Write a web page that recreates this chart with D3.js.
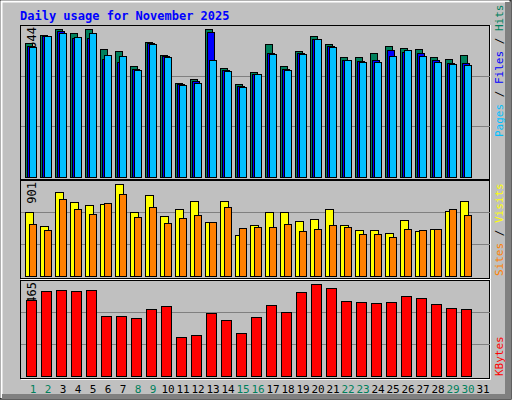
<!DOCTYPE html>
<html><head><meta charset="utf-8">
<script src="https://cdn.jsdelivr.net/npm/d3@7"></script>
<style>body{margin:0;background:#fff}svg{display:block}text{font-family:"DejaVu Sans Mono",monospace}</style>
</head><body><svg id="c" width="512" height="400"></svg>
<script>
const days = d3.range(1,32);
const weekend = [1,2,8,9,15,16,22,23,29,30];
const hits  = [22170,23550,24500,23830,24544,21180,20850,18360,22340,20180,15540,16200,24500,18030,15370,17360,22060,18410,20900,23380,22060,19900,19900,20570,21720,21390,21230,19900,19570,20240,0];
const files = [21720,23430,24160,23100,23050,19570,19070,17910,22170,20070,15420,15920,24050,17740,15090,17080,20510,17910,20620,22880,21720,19400,19240,19350,21010,20790,20570,19400,18910,18910,0];
const pages = [21510,23380,23830,23170,23830,20180,20010,17740,22000,19850,15200,15590,19350,17580,14870,17030,20400,17690,20400,22830,21510,19350,19070,19070,20070,21010,20070,19070,18740,18570,0];
const visits = [626,488,822,724,695,704,901,626,793,587,655,734,527,734,400,498,626,626,537,557,655,498,449,449,420,547,439,459,636,734,0];
const sites  = [508,449,754,655,606,714,803,577,675,518,567,596,527,675,469,478,478,508,439,459,498,478,410,410,380,459,449,459,655,596,0];
const kbytes = [883000,987800,999500,987800,999500,696300,696300,673000,778000,813000,451000,475000,731000,650000,498000,685000,825000,743000,976000,1069465,1023000,871000,860000,848000,860000,930000,906000,836000,790000,778000,0];
const maxLabels = ["24544","901","1069465"];

const svg = d3.select("#c");
svg.append("rect").attr("width",512).attr("height",400).attr("fill","#c0c0c0");
// bevel
svg.append("rect").attr("x",0).attr("y",0).attr("width",511).attr("height",399).attr("fill","none").attr("stroke","#000");
svg.append("path").attr("d","M1.5,398V1.5H509").attr("stroke","#fff").attr("stroke-width",2).attr("fill","none");
svg.append("rect").attr("x",505).attr("y",2).attr("width",6).attr("height",397).attr("fill","#808080");
svg.append("rect").attr("x",2).attr("y",394).attr("width",509).attr("height",5).attr("fill","#808080");

svg.append("text").attr("x",20).attr("y",20).attr("fill","#0000ff").attr("font-size",12).attr("font-weight","bold").text("Daily usage for November 2025");

const x = d3.scaleLinear().domain([1,32]).range([25,490]);
const panels = [
  {top:25, base:177, bot:179, max:24544},
  {top:180, base:276, bot:278, max:901},
  {top:280, base:376, bot:378, max:1069465}
];
panels.forEach((p,i)=>{
  svg.append("rect").attr("x",20.5).attr("y",p.top+0.5).attr("width",469).attr("height",p.bot-p.top).attr("fill","#c0c0c0").attr("stroke","#000");
  svg.append("path").attr("d",`M21,${p.bot+1.5}H490.5V${p.top}`).attr("stroke","#fff").attr("fill","none");
  for(let k=1;k<=2;k++){
    const gy = Math.round(p.base-(p.base-p.top)*k/3)+0.5;
    svg.append("line").attr("x1",21).attr("x2",490).attr("y1",gy).attr("y2",gy).attr("stroke","#808080");
  }
  svg.append("text").attr("transform",`translate(36,${p.top+2}) rotate(-90)`).attr("text-anchor","end").attr("font-size",12).attr("fill","#000").text(maxLabels[i]);
});

function bars(data, yScale, base, off, w, color){
  svg.append("g").selectAll("rect").data(days.filter((d,i)=>data[i]>0)).join("rect")
    .attr("x",d=>x(d)+off+0.5).attr("width",w)
    .attr("y",d=>Math.round(yScale(data[d-1]))+0.5)
    .attr("height",d=>base-Math.round(yScale(data[d-1])))
    .attr("fill",color).attr("stroke","#000");
}
const y1 = d3.scaleLinear().domain([0,24544]).range([177,29]);
bars(hits,y1,177,0,7,"#00805c");
bars(files,y1,177,2,7,"#0000ff");
bars(pages,y1,177,4,7,"#00c0ff");
const y2 = d3.scaleLinear().domain([0,901]).range([276,184]);
bars(visits,y2,276,0,8,"#ffff00");
bars(sites,y2,276,4,7,"#ff8000");
const y3 = d3.scaleLinear().domain([0,1069465]).range([376,284]);
bars(kbytes,y3,376,1,10,"#ff0000");

svg.append("g").selectAll("text").data(days).join("text")
  .attr("x",d=>x(d)+8).attr("y",393).attr("text-anchor","middle").attr("font-size",11)
  .attr("fill",d=>weekend.includes(d)?"#00805c":"#000").text(d=>d);

function vlabel(yStart, parts){
  const t = svg.append("text").attr("transform",`translate(503,${yStart}) rotate(-90)`).attr("font-size",11);
  parts.forEach(p=>t.append("tspan").attr("fill",p[1]).text(p[0]));
}
vlabel(137,[["Pages","#00c0ff"],[" / ","#000"],["Files","#0000ff"],[" / ","#000"],["Hits","#00805c"]]);
vlabel(276,[["Sites","#ff8000"],[" / ","#000"],["Visits","#ffff00"]]);
vlabel(376,[["KBytes","#ff0000"]]);
</script></body></html>
